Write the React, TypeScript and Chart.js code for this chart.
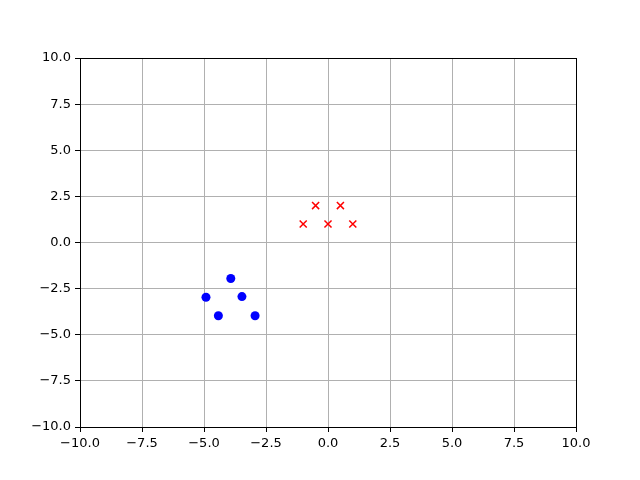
import React, { useEffect, useRef } from "react";
import { Chart, registerables } from "chart.js";

Chart.register(...registerables);

const blueX = [-4.92, -4.42, -3.92, -3.47, -2.94];
const blueY = [-2.97, -3.97, -1.95, -2.93, -3.97];
const redX = [-1, -0.5, 0, 0.5, 1];
const redY = [1, 2, 1, 2, 1];
const axisMin = -10;
const axisMax = 10;
const tickStep = 2.5;

const fmt = (v: number) => v.toFixed(1).replace("-", "\u2212");

const boxPlugin = {
  id: "box",
  afterDraw(chart: any) {
    const { ctx, chartArea } = chart;
    ctx.save();
    ctx.strokeStyle = "#000";
    ctx.lineWidth = 1;
    ctx.strokeRect(
      Math.round(chartArea.left) + 0.5,
      Math.round(chartArea.top) + 0.5,
      Math.round(chartArea.right - chartArea.left),
      Math.round(chartArea.bottom - chartArea.top)
    );
    ctx.restore();
  },
};

export default function App() {
  const ref = useRef<HTMLCanvasElement>(null);
  useEffect(() => {
    if (!ref.current) return;
    const font = { family: "DejaVu Sans", size: 13 };
    const chart = new Chart(ref.current, {
      type: "scatter",
      data: {
        datasets: [
          {
            data: blueX.map((x, i) => ({ x, y: blueY[i] })),
            pointStyle: "circle",
            pointRadius: 4.5,
            backgroundColor: "#0000ff",
            borderColor: "#0000ff",
            borderWidth: 0,
          },
          {
            data: redX.map((x, i) => ({ x, y: redY[i] })),
            pointStyle: "crossRot",
            pointRadius: 5,
            borderColor: "#ff0000",
            backgroundColor: "#ff0000",
            borderWidth: 1.5,
          },
        ],
      },
      options: {
        animation: false,
        responsive: false,
        layout: { padding: { left: 0, right: 64, top: 58, bottom: 0 } },
        plugins: { legend: { display: false }, tooltip: { enabled: false } },
        scales: {
          x: {
            type: "linear",
            min: axisMin,
            max: axisMax,
            afterFit: (s: any) => {
              s.height = 53;
            },
            ticks: {
              stepSize: tickStep,
              color: "#000",
              font,
              padding: 4,
              maxRotation: 0,
              callback: (v: any) => fmt(Number(v)),
            },
            grid: {
              color: "#b0b0b0",
              lineWidth: 1,
              tickColor: "#000",
              tickLength: 5,
            },
            border: { color: "#000", width: 1 },
          },
          y: {
            type: "linear",
            min: axisMin,
            max: axisMax,
            afterFit: (s: any) => {
              s.width = 80;
            },
            ticks: {
              stepSize: tickStep,
              color: "#000",
              font,
              padding: 4,
              callback: (v: any) => fmt(Number(v)),
            },
            grid: {
              color: "#b0b0b0",
              lineWidth: 1,
              tickColor: "#000",
              tickLength: 5,
            },
            border: { color: "#000", width: 1 },
          },
        },
      },
      plugins: [boxPlugin],
    } as any);
    return () => chart.destroy();
  }, []);
  return (
    <div style={{ position: "fixed", left: 0, top: 0, width: 640, height: 480, background: "#fff" }}>
      <canvas ref={ref} width={640} height={480} style={{ width: 640, height: 480 }} />
    </div>
  );
}
